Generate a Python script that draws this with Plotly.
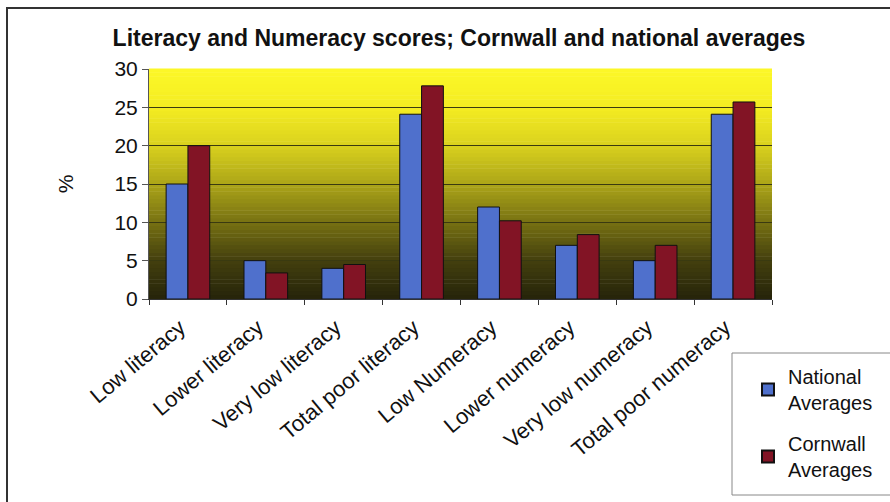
import plotly.graph_objects as go

categories = ["Low literacy", "Lower literacy", "Very low literacy", "Total poor literacy",
              "Low Numeracy", "Lower numeracy", "Very low numeracy", "Total poor numeracy"]
national = [15, 5, 4, 24.1, 12, 7, 5, 24.1]
cornwall = [20, 3.4, 4.5, 27.8, 10.2, 8.4, 7, 25.7]
y_ticks = [0, 5, 10, 15, 20, 25, 30]

W, H = 890, 502
L, R, T, B = 149, 772, 69, 299

def px_x(p):
    return (p - L) / (R - L)

def px_y(p):
    return (B - p) / (B - T)

fig = go.Figure()
fig.add_trace(go.Bar(name="National<br>Averages", x=categories, y=national, legendgroup="n",
                     marker=dict(color="#4F70CC", line=dict(color="#111111", width=1))))
fig.add_trace(go.Bar(name="Cornwall<br>Averages", x=categories, y=cornwall, legendgroup="c",
                     marker=dict(color="#821425", line=dict(color="#111111", width=1))))

# gradient background
stops = [(0.0, (38, 36, 10)), (0.17, (68, 64, 14)), (0.33, (118, 112, 18)),
         (0.5, (172, 165, 24)), (0.67, (218, 210, 30)), (0.83, (244, 236, 34)),
         (1.0, (252, 248, 40))]

def col(t):
    for (a, ca), (b, cb) in zip(stops[:-1], stops[1:]):
        if a <= t <= b:
            f = (t - a) / (b - a)
            return "rgb(%d,%d,%d)" % tuple(round(ca[i] + f * (cb[i] - ca[i])) for i in range(3))
    return "rgb(%d,%d,%d)" % stops[-1][1]

shapes = []
N = 60
for i in range(N):
    y0 = i / N
    y1 = (i + 1) / N
    shapes.append(dict(type="rect", xref="x domain", yref="y domain", x0=0, x1=1,
                       y0=y0, y1=y1 + 0.002, fillcolor=col((y0 + y1) / 2),
                       line=dict(width=0), layer="below"))
# outer frame
shapes.append(dict(type="rect", xref="paper", yref="paper",
                   x0=px_x(7), x1=px_x(905), y0=px_y(515), y1=px_y(8),
                   line=dict(color="#333333", width=2), fillcolor="rgba(0,0,0,0)"))
# legend box
shapes.append(dict(type="rect", xref="paper", yref="paper",
                   x0=px_x(732), x1=px_x(900), y0=px_y(495), y1=px_y(353),
                   line=dict(color="#888888", width=1), fillcolor="rgba(0,0,0,0)"))

fig.update_layout(
    width=W, height=H,
    margin=dict(l=L, r=W - R, t=T, b=H - B, autoexpand=False),
    paper_bgcolor="white", plot_bgcolor="rgba(0,0,0,0)",
    barmode="group", bargap=0.44, bargroupgap=0,
    font=dict(family="Liberation Sans, Arial, sans-serif", color="#111111"),
    title=dict(text="<b>Literacy and Numeracy scores; Cornwall and national averages</b>",
               xref="container", x=459 / W, xanchor="center", y=1 - 38 / H, yanchor="middle",
               font=dict(size=23)),
    shapes=shapes,
    showlegend=True,
    legend=dict(x=px_x(748), y=px_y(357), xanchor="left", yanchor="top",
                bgcolor="rgba(0,0,0,0)", borderwidth=0,
                font=dict(size=20), tracegroupgap=12, itemsizing="constant"),
)
fig.update_xaxes(tickangle=-40, tickfont=dict(size=22), showline=True, linecolor="#333333",
                 linewidth=1, ticks="outside", ticklen=5, tickcolor="#333333",
                 tickson="boundaries", showgrid=False, ticklabelshift=-8,
                 ticklabelstandoff=6)
fig.update_yaxes(range=[0, 30], tickvals=y_ticks, tickfont=dict(size=21),
                 showline=True, linecolor="#555555", linewidth=1, ticks="outside",
                 ticklen=6, tickcolor="#555555", showgrid=True, gridcolor="#3a3a10",
                 gridwidth=1, zeroline=False,
                 title=dict(text="%", font=dict(size=21), standoff=35))

fig.write_html("out.html", config={"displayModeBar": False},
               post_script="document.body.style.margin='0';document.body.style.overflow='hidden';")
